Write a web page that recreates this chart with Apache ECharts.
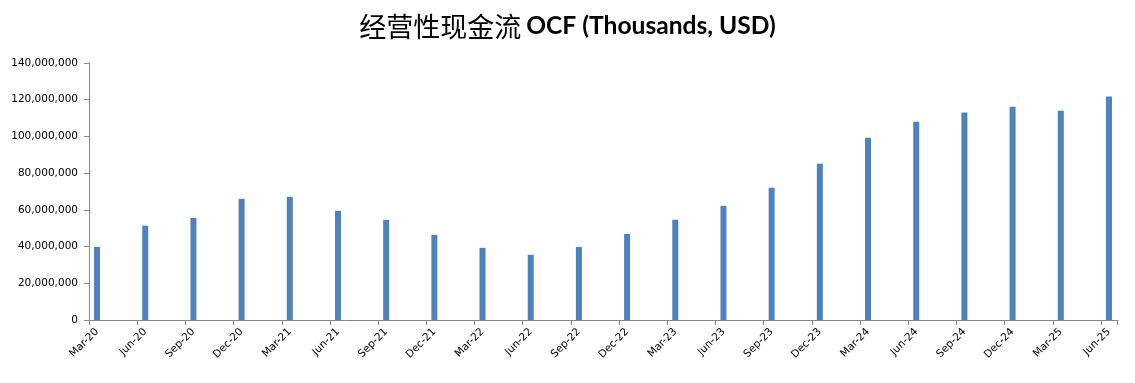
<!DOCTYPE html>
<html>
<head>
<meta charset="utf-8">
<script src="https://cdn.jsdelivr.net/npm/echarts@6/dist/echarts.min.js"></script>
<style>
html,body{margin:0;padding:0;background:#fff;}
#chart{width:1135px;height:383px;}
</style>
</head>
<body>
<div id="chart"></div>
<script>
// Quarter-end labels (one bar each)
const quarters = ['Mar-20','Jun-20','Sep-20','Dec-20','Mar-21','Jun-21','Sep-21','Dec-21','Mar-22','Jun-22','Sep-22','Dec-22','Mar-23','Jun-23','Sep-23','Dec-23','Mar-24','Jun-24','Sep-24','Dec-24','Mar-25','Jun-25'];
// Operating cash flow values (thousands USD)
const ocfValues = [39800000,51400000,55600000,66000000,67100000,59500000,54600000,46400000,39300000,35500000,39800000,46900000,54600000,62200000,72000000,85100000,99300000,108000000,113000000,116200000,114000000,121700000];
// Y axis ticks
const yMin = 0, yMax = 140000000, yStep = 20000000;

// Monthly date axis: each quarter followed by two empty months (Excel date axis, base unit = month)
const months = [];
const monthValues = [];
quarters.forEach((q, i) => {
  months.push(q);
  monthValues.push(ocfValues[i]);
  if (i < quarters.length - 1) {
    months.push(q + '+1'); monthValues.push(null);
    months.push(q + '+2'); monthValues.push(null);
  }
});

const chart = echarts.init(document.getElementById('chart'));
chart.setOption({
  animation: false,
  backgroundColor: '#fff',
  title: {
    left: 'center',
    top: 8,
    text: '{cn|经营性现金流} {en|OCF (Thousands, USD)}',
    textStyle: {
      rich: {
        cn: {fontFamily: 'Noto Sans CJK SC', fontSize: 27, color: '#000', fontWeight: 'normal'},
        en: {fontFamily: 'Lato', fontSize: 24.6, color: '#000', fontWeight: 'bold'}
      }
    }
  },
  grid: {left: 89, right: 18, top: 63, bottom: 63, containLabel: false},
  xAxis: {
    type: 'category',
    data: months,
    boundaryGap: true,
    axisLine: {lineStyle: {color: '#868686', width: 1}},
    axisTick: {show: true, interval: 2, alignWithLabel: false, length: 5, lineStyle: {color: '#868686'}},
    axisLabel: {
      interval: 2,
      rotate: 45,
      fontFamily: 'DejaVu Sans',
      fontSize: 10.5,
      color: '#000',
      margin: 10,
      formatter: v => v
    }
  },
  yAxis: {
    type: 'value',
    min: yMin,
    max: yMax,
    interval: yStep,
    axisLine: {show: true, lineStyle: {color: '#868686', width: 1}},
    axisTick: {show: true, length: 5, lineStyle: {color: '#868686'}},
    splitLine: {show: false},
    axisLabel: {
      fontFamily: 'DejaVu Sans',
      fontSize: 10.5,
      color: '#000',
      margin: 11,
      formatter: v => v.toLocaleString('en-US')
    }
  },
  series: [{
    type: 'bar',
    data: monthValues,
    barWidth: 6,
    itemStyle: {color: '#4F81BD'}
  }]
});
</script>
</body>
</html>
